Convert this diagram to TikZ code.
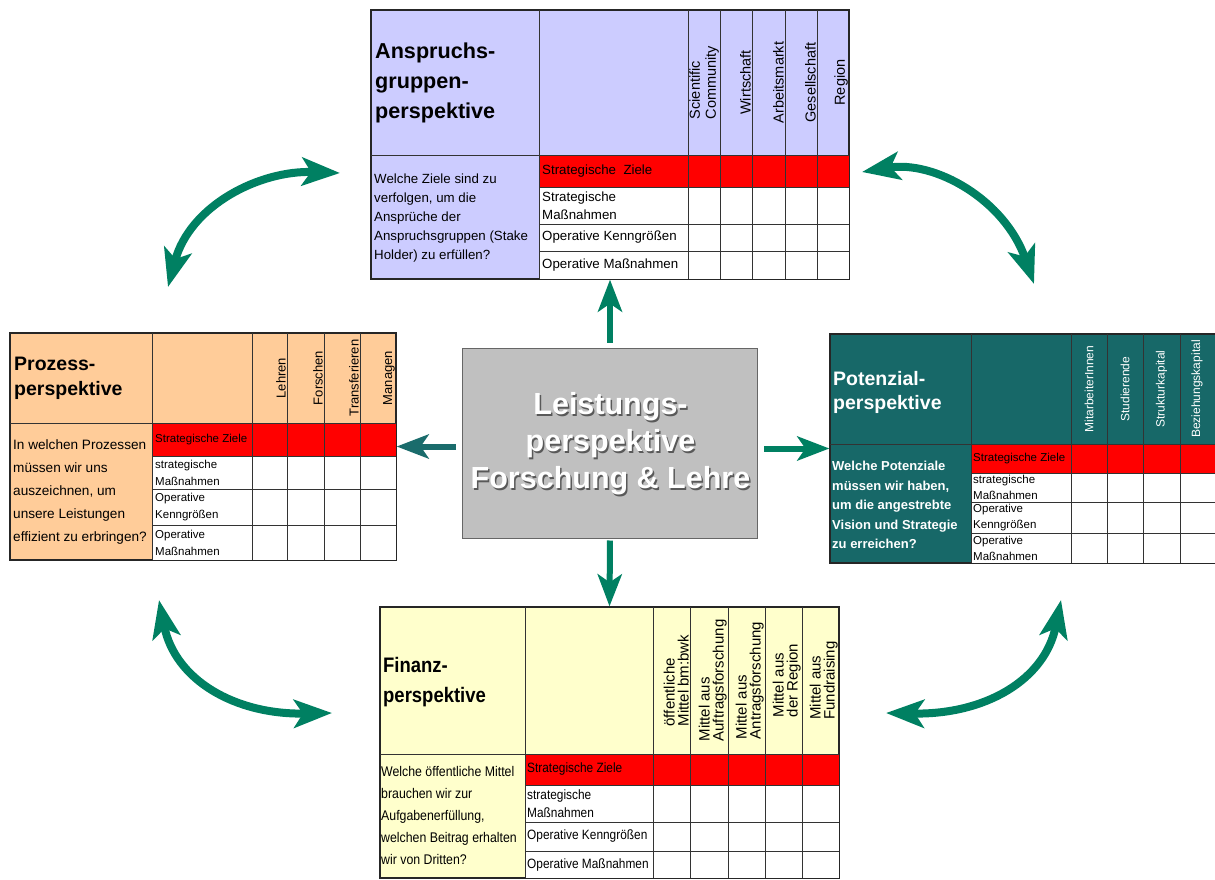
\documentclass[tikz,border=0pt]{standalone}
\usepackage{fontspec}
\setmainfont{Liberation Sans}
\newfontfamily\condfont[FakeStretch=0.88]{Liberation Sans}
\usetikzlibrary{arrows.meta}
\tikzset{>=stealth}
\definecolor{lavender}{RGB}{204,204,255}
\definecolor{peach}{RGB}{255,204,153}
\definecolor{petrol}{RGB}{23,104,104}
\definecolor{paleyellow}{RGB}{255,255,204}
\definecolor{signalred}{RGB}{255,0,0}
\definecolor{boxgray}{RGB}{192,192,192}
\definecolor{arcgreen}{RGB}{0,128,98}
\definecolor{darkteal}{RGB}{26,108,108}
\tikzset{
  frame/.style={draw=black!85, line width=1.2pt, inner sep=0pt},
  gridline/.style={black!80, line width=1pt},
  cell/.style={anchor=west, align=left, inner sep=0pt},
  colhead/.style={rotate=90, anchor=south, align=left, inner sep=0pt},
  swing/.style={arcgreen, line width=8pt,
    {Stealth[length=38pt,width=28pt,inset=9pt]}-{Stealth[length=38pt,width=28pt,inset=9pt]}},
  link/.style={line width=6pt, -{Stealth[length=32pt,width=24pt,inset=8pt]}},
}

\begin{document}
\begin{tikzpicture}[x=1pt, y=-1pt]
    \useasboundingbox (0,0) rectangle (1215,880);
    % Anspruchsgruppenperspektive (oben)
    \node[frame, fill=lavender, minimum width=478pt, minimum height=269pt] (anspr) at (610,144.5) {};
    \fill[signalred] (539,155) rectangle (849,187);
    \fill[white] (539,187) rectangle (849,279);
    \foreach \x in {539,688,720,752,785,817} \draw[gridline] (\x,10) -- (\x,279);
    \foreach \y in {187,224,251} \draw[gridline] (539,\y) -- (849,\y);
    \draw[gridline] (371,155) -- (849,155);
    \draw[frame] (anspr.north west) rectangle (anspr.south east);
    \node[cell, font=\bfseries\fontsize{21.6}{30}\selectfont] at (375,83) {Anspruchs-\\gruppen-\\perspektive};
    \node[cell, font=\fontsize{13.3}{19}\selectfont] at (374,218) {Welche Ziele sind zu\\verfolgen, um die\\Ansprüche der\\Anspruchsgruppen (Stake\\Holder) zu erfüllen?};
    \foreach \y/\t in {171/{Strategische\ \ Ziele}, 205.5/{Strategische\\Maßnahmen}, 237.5/{Operative Kenngrößen}, 265/{Operative Maßnahmen}}
        \node[cell, font=\fontsize{13.3}{18}\selectfont] at (542,\y) {\t};
    \foreach \x/\t in {719/{Scientific\\Community}, 751/Wirtschaft, 784/Arbeitsmarkt, 816/Gesellschaft, 848/Region}
        \node[colhead, font=\fontsize{14.5}{16}\selectfont] at (\x,82.5) {\t};

    % Prozessperspektive (links)
    \node[frame, fill=peach, minimum width=386pt, minimum height=227pt] (proz) at (203,446.5) {};
    \fill[signalred] (152,423) rectangle (396,456);
    \fill[white] (152,456) rectangle (396,560);
    \foreach \x in {152,252,287,324,360} \draw[gridline] (\x,333) -- (\x,560);
    \foreach \y in {456,489,525} \draw[gridline] (152,\y) -- (396,\y);
    \draw[gridline] (10,423) -- (396,423);
    \draw[frame] (proz.north west) rectangle (proz.south east);
    \node[cell, font=\bfseries\fontsize{19.5}{25}\selectfont] at (14,378) {Prozess-\\perspektive};
    \node[cell, font=\fontsize{13.6}{23}\selectfont] at (13,492) {In welchen Prozessen\\müssen wir uns\\auszeichnen, um\\unsere Leistungen\\effizient zu erbringen?};
    \foreach \y/\t in {439.5/{Strategische Ziele}, 472.5/{strategische\\Maßnahmen}, 507/{Operative\\Kenngrößen}, 542.5/{Operative\\Maßnahmen}}
        \node[cell, font=\fontsize{11.5}{17}\selectfont] at (155,\y) {\t};
    \foreach \x/\t in {286/Lehren, 323/Forschen, 359/Transferieren, 395/Managen}
        \node[colhead, font=\fontsize{13}{15}\selectfont] at (\x,378) {\t};

    % Potenzialperspektive (rechts)
    \node[frame, fill=petrol, minimum width=390pt, minimum height=229pt] (poten) at (1025,448.5) {};
    \fill[signalred] (971,444) rectangle (1220,473);
    \fill[white] (971,473) rectangle (1220,563);
    \foreach \x in {971,1071,1107,1143,1180} \draw[gridline] (\x,334) -- (\x,563);
    \foreach \y in {473,502,533} \draw[gridline] (971,\y) -- (1220,\y);
    \draw[gridline] (830,444) -- (1220,444);
    \draw[frame] (poten.north west) rectangle (poten.south east);
    \node[cell, text=white, font=\bfseries\fontsize{19.5}{24}\selectfont] at (833,392) {Potenzial-\\perspektive};
    \node[cell, text=white, font=\bfseries\fontsize{13}{19.5}\selectfont] at (832,505) {Welche Potenziale\\müssen wir haben,\\um die angestrebte\\Vision und Strategie\\zu erreichen?};
    \foreach \y/\t in {458.5/{Strategische Ziele}, 487.5/{strategische\\Maßnahmen}, 517.5/{Operative\\Kenngrößen}, 548/{Operative\\Maßnahmen}}
        \node[cell, font=\fontsize{11.5}{16}\selectfont] at (973,\y) {\t};
    \foreach \x/\t in {1089/MitarbeiterInnen, 1125/Studierende, 1161.5/Strukturkapital, 1197/Beziehungskapital}
        \node[colhead, anchor=center, text=white, font=\fontsize{12}{14}\selectfont] at (\x,389) {\t};

    % Finanzperspektive (unten)
    \node[frame, fill=paleyellow, minimum width=459pt, minimum height=271pt] (finanz) at (609.5,742.5) {};
    \fill[signalred] (525,754) rectangle (839,785);
    \fill[white] (525,785) rectangle (839,878);
    \foreach \x in {525,653,690,728,765,802} \draw[gridline] (\x,607) -- (\x,878);
    \foreach \y in {785,822,851} \draw[gridline] (525,\y) -- (839,\y);
    \draw[gridline] (380,754) -- (839,754);
    \draw[frame] (finanz.north west) rectangle (finanz.south east);
    \node[cell, font=\condfont\bfseries\fontsize{21}{30}\selectfont] at (383,682) {Finanz-\\perspektive};
    \node[cell, font=\condfont\fontsize{14}{22}\selectfont] at (381,815) {Welche öffentliche Mittel\\brauchen wir zur\\Aufgabenerfüllung,\\welchen Beitrag erhalten\\wir von Dritten?};
    \foreach \y/\t in {769.5/{Strategische Ziele}, 803.5/{strategische\\Maßnahmen}, 836.5/{Operative Kenngrößen}, 864.5/{Operative Maßnahmen}}
        \node[cell, font=\condfont\fontsize{13.5}{18}\selectfont] at (527,\y) {\t};
    \foreach \x/\t in {689/{öffentliche\\Mittel bm:bwk}, 727/{Mittel aus\\Auftragsforschung}, 764/{Mittel aus\\Antragsforschung}, 801/{Mittel aus\\der Region}, 838/{Mittel aus\\Fundraising}}
        \node[colhead, font=\fontsize{15}{14}\selectfont] at (\x,680.5) {\t};

    % Leistungsperspektive (Mitte)
    \node[draw=black!60, line width=1pt, fill=boxgray, minimum width=295pt, minimum height=190pt] (lst) at (610,443) {};
    \node[align=center, text=black!65, font=\bfseries\fontsize{30.5}{37}\selectfont] (lstshadow) at (612,446) {Leistungs-\\perspektive\\Forschung \& Lehre};
    \node[align=center, text=white, font=\bfseries\fontsize{30.5}{37}\selectfont] (lsttext) at (610.5,444) {Leistungs-\\perspektive\\Forschung \& Lehre};

    % Pfeile
    \draw[link, arcgreen, shorten <=5pt] (lst.north) -- (anspr.south);
    \draw[link, darkteal, shorten <=6pt] (lst.west |- proz.east) -- (proz.east);
    \draw[link, arcgreen, shorten <=6pt] (lst.east |- poten.west) -- (poten.west);
    \draw[link, arcgreen, shorten <=2pt] (lst.south) -- (finanz.north);

    \coordinate (tlA) at (168,287);
    \coordinate (tlB) at (340,173);
    \coordinate (trA) at (862,172);
    \coordinate (trB) at (1034,284);
    \coordinate (blA) at (159,600);
    \coordinate (blB) at (332,713);
    \coordinate (brA) at (1061,600);
    \coordinate (brB) at (886,713);
    \draw[swing] (tlA) .. controls (190,205) and (260,170) .. (tlB);
    \draw[swing] (trA) .. controls (935,160) and (1005,200) .. (trB);
    \draw[swing] (blA) .. controls (175,680) and (235,715) .. (blB);
    \draw[swing] (brA) .. controls (1045,680) and (985,715) .. (brB);
\end{tikzpicture}
\end{document}
